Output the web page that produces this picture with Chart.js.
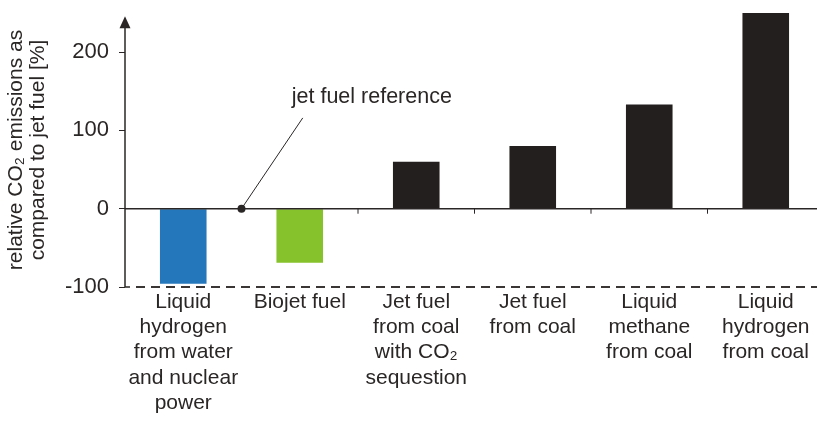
<!DOCTYPE html>
<html><head><meta charset="utf-8">
<script src="https://cdn.jsdelivr.net/npm/chart.js@4.4.1/dist/chart.umd.min.js"></script>
<style>html,body{margin:0;padding:0;overflow:hidden;background:#fff;width:817px;height:422px}canvas{display:block}</style>
</head><body>
<canvas id="c" width="824" height="422"></canvas>
<script>
const categories = [
  ['Liquid','hydrogen','from water','and nuclear','power'],
  ['Biojet fuel'],
  ['Jet fuel','from coal','with CO\u2082','sequestion'],
  ['Jet fuel','from coal'],
  ['Liquid','methane','from coal'],
  ['Liquid','hydrogen','from coal']
];
const emissions = [-96, -69, 60, 80, 133, 250];
const barColors = ['#2577bb','#86c22b','#231f1e','#231f1e','#231f1e','#231f1e'];
const yTicks = [-100, 0, 100, 200];
const yTitle = ['relative CO\u2082 emissions as','compared to jet fuel [%]'];
const annotationText = 'jet fuel reference';

const FONT = "'Liberation Sans', Arial, sans-serif";
const INK = '#2a2626';

const decor = {
  id: 'decor',
  afterDatasetsDraw(chart) {
    const ctx = chart.ctx, x = chart.scales.x, y = chart.scales.y, ca = chart.chartArea;
    const y0 = y.getPixelForValue(0);
    const yb = y.getPixelForValue(-100);
    ctx.save();
    ctx.strokeStyle = INK; ctx.fillStyle = INK;
    // dashed -100 line
    ctx.lineWidth = 1.5;
    ctx.beginPath(); ctx.moveTo(ca.left, yb); ctx.lineTo(ca.left + 5, yb); ctx.stroke();
    ctx.strokeStyle = '#3a3636';
    ctx.lineWidth = 2;
    ctx.setLineDash([9, 6]);
    ctx.beginPath(); ctx.moveTo(ca.left + 11, yb); ctx.lineTo(ca.right, yb); ctx.stroke();
    ctx.setLineDash([]);
    ctx.strokeStyle = INK;
    // zero line
    ctx.lineWidth = 1.5;
    ctx.beginPath(); ctx.moveTo(ca.left, y0); ctx.lineTo(ca.right, y0); ctx.stroke();
    // boundary ticks on zero line
    ctx.lineWidth = 1;
    for (let i = 1; i < categories.length - 1; i++) {
      const bx = (x.getPixelForValue(i) + x.getPixelForValue(i + 1)) / 2;
      ctx.beginPath(); ctx.moveTo(bx, y0); ctx.lineTo(bx, y0 + 5); ctx.stroke();
    }
    // y axis with arrow
    const yt = y.getPixelForValue(246);
    ctx.lineWidth = 1.5;
    ctx.beginPath(); ctx.moveTo(ca.left, yb); ctx.lineTo(ca.left, yt + 8); ctx.stroke();
    ctx.beginPath(); ctx.moveTo(ca.left, yt); ctx.lineTo(ca.left - 5.5, yt + 12); ctx.lineTo(ca.left + 5.5, yt + 12); ctx.closePath(); ctx.fill();
    // annotation
    const dx = (x.getPixelForValue(0) + x.getPixelForValue(1)) / 2;
    ctx.beginPath(); ctx.arc(dx, y0, 4, 0, Math.PI * 2); ctx.fill();
    ctx.lineWidth = 1;
    ctx.beginPath(); ctx.moveTo(dx, y0); ctx.lineTo(x.getPixelForValue(1) + 3, y.getPixelForValue(116)); ctx.stroke();
    ctx.font = '21.5px ' + FONT; ctx.textBaseline = 'middle'; ctx.textAlign = 'left';
    ctx.fillText(annotationText, x.getPixelForValue(1) - 8, y.getPixelForValue(142));
    ctx.restore();
  }
};

new Chart(document.getElementById('c'), {
  type: 'bar',
  data: {
    labels: categories,
    datasets: [{ data: emissions, backgroundColor: barColors, barPercentage: 0.4, categoryPercentage: 1.0 }]
  },
  options: {
    responsive: false,
    animation: false,
    layout: { padding: { top: 13, left: 0, right: 0, bottom: 0 } },
    plugins: { legend: { display: false }, tooltip: { enabled: false } },
    scales: {
      x: {
        afterFit: s => { s.height = 135; s.paddingLeft = 0; s.paddingRight = 0; },
        grid: { display: false, drawTicks: false },
        border: { display: false },
        ticks: { color: INK, font: { family: FONT, size: 21, lineHeight: 1.21 }, padding: 2, maxRotation: 0, autoSkip: false }
      },
      y: {
        min: -100, max: 250,
        afterFit: s => { s.width = 125; s.paddingTop = 0; s.paddingBottom = 0; },
        afterBuildTicks: s => { s.ticks = yTicks.map(v => ({ value: v })); },
        border: { display: false },
        grid: { drawOnChartArea: false, drawTicks: true, tickLength: 6, tickColor: INK },
        ticks: { color: INK, font: { family: FONT, size: 22 }, padding: 10 },
        title: { display: true, text: yTitle, color: INK, font: { family: FONT, size: 21, lineHeight: 1.05 }, padding: { top: 5, bottom: 0 } }
      }
    }
  },
  plugins: [decor]
});
</script>
</body></html>
